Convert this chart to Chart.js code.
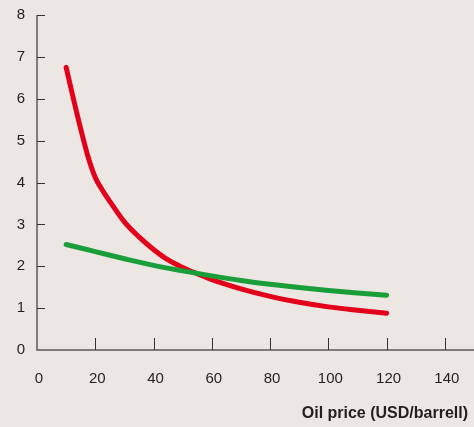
<!DOCTYPE html>
<html>
<head>
<meta charset="utf-8">
<script src="https://cdn.jsdelivr.net/npm/chart.js@4"></script>
<style>
  html, body { margin: 0; padding: 0; background: #ece7e3; }
  #wrap { position: relative; width: 474px; height: 427px; }
  #xtitle {
    position: absolute; right: 6px; top: 404px; line-height: 18px;
    font: bold 16px "Liberation Sans", Arial, sans-serif; color: #231f20;
  }
</style>
</head>
<body>
<div id="wrap">
  <canvas id="grafico" width="474" height="427"></canvas>
  <div id="xtitle">Oil price (USD/barrell)</div>
</div>
<script>
// dados
const precosVermelho = [10, 12.5, 15, 17.5, 20, 22.5, 25, 30, 35, 40, 45, 50, 55, 60, 70, 80, 90, 100, 110, 120];
const valoresVermelho = [6.75, 6.0, 5.28, 4.62, 4.12, 3.81, 3.55, 3.06, 2.70, 2.40, 2.15, 1.97, 1.82, 1.68, 1.46, 1.28, 1.14, 1.03, 0.95, 0.88];
const precosVerde = [10, 20, 30, 40, 50, 60, 70, 80, 90, 100, 110, 120];
const valoresVerde = [2.52, 2.35, 2.18, 2.02, 1.89, 1.77, 1.66, 1.57, 1.49, 1.42, 1.36, 1.31];
const ticksX = [0, 20, 40, 60, 80, 100, 120, 140];
const ticksY = [0, 1, 2, 3, 4, 5, 6, 7, 8];

const corTexto = '#231f20';
const fonte = { family: '"Liberation Sans", Arial, sans-serif', size: 15 };

/**
 * Desenha os eixos com marcas para dentro, como no original.
 */
const eixosPlugin = {
    id: 'eixos',
    afterDraw(chart) {
        const { ctx, scales } = chart;
        const x = scales.x, y = scales.y;
        const x0 = x.getPixelForValue(0);
        const y0 = y.getPixelForValue(0);
        ctx.save();
        ctx.strokeStyle = '#5a5a5a';
        ctx.lineWidth = 1.5;
        ctx.beginPath();
        ctx.moveTo(x0, y.getPixelForValue(8));
        ctx.lineTo(x0, y0);
        ctx.lineTo(chart.width, y0);
        ctx.stroke();

        ctx.strokeStyle = '#333333';
        ctx.lineWidth = 1;
        ctx.beginPath();
        ticksY.slice(1).forEach(v => {
            const py = Math.round(y.getPixelForValue(v)) + 0.5;
            ctx.moveTo(x0, py);
            ctx.lineTo(x0 + 8, py);
        });
        ticksX.slice(1).forEach(v => {
            const px = Math.round(x.getPixelForValue(v)) + 0.5;
            ctx.moveTo(px, y0);
            ctx.lineTo(px, y0 - 12);
        });
        ctx.stroke();
        ctx.restore();
    }
};

const serie = (precos, valores, cor) => ({
    data: precos.map((p, i) => ({ x: p, y: valores[i] })),
    borderColor: cor,
    borderWidth: 5,
    borderCapStyle: 'round',
    borderJoinStyle: 'round',
    pointRadius: 0,
    fill: false,
    cubicInterpolationMode: 'monotone'
});

new Chart(document.getElementById('grafico'), {
    type: 'line',
    data: {
        datasets: [
            serie(precosVerde, valoresVerde, '#1a9e3a'),
            serie(precosVermelho, valoresVermelho, '#e2001a')
        ]
    },
    options: {
        responsive: false,
        animation: false,
        layout: { padding: { top: 15, right: 0, left: 0, bottom: 0 } },
        plugins: { legend: { display: false }, tooltip: { enabled: false } },
        scales: {
            x: {
                type: 'linear',
                min: 0,
                max: 150,
                afterBuildTicks: s => { s.ticks = ticksX.map(v => ({ value: v })); },
                afterFit: s => { s.height = 77; s.paddingLeft = 0; s.paddingRight = 0; },
                grid: { display: false, drawTicks: false },
                border: { display: false },
                ticks: { color: corTexto, font: fonte, padding: 20, maxRotation: 0, labelOffset: 2 }
            },
            y: {
                type: 'linear',
                min: 0,
                max: 8,
                afterBuildTicks: s => { s.ticks = ticksY.map(v => ({ value: v })); },
                afterFit: s => { s.width = 37; s.paddingTop = 0; s.paddingBottom = 0; },
                grid: { display: false, drawTicks: false },
                border: { display: false },
                ticks: { color: corTexto, font: fonte, padding: 12 }
            }
        }
    },
    plugins: [eixosPlugin]
});
</script>
</body>
</html>
